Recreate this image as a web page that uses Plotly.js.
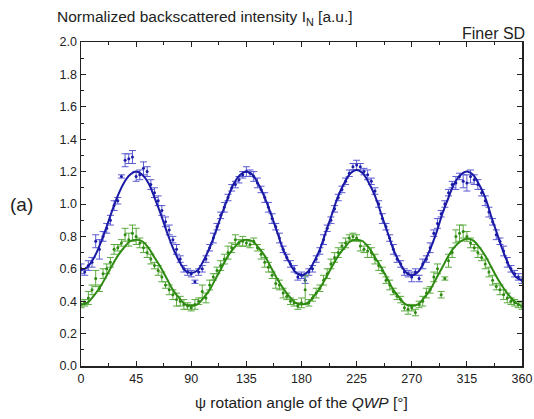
<!DOCTYPE html>
<html>
<head>
<meta charset="utf-8">
<script src="https://cdn.plot.ly/plotly-3.0.1.min.js"></script>
<style>html,body{margin:0;padding:0;background:#fff;}#chart{width:534px;height:419px;}</style>
</head>
<body>
<div id="chart"></div>
<script>
// Measurement angles (deg)
const angles = [0,3,6,9,12,15,18,21,24,27,30,33,36,39,42,45,48,51,54,57,60,63,66,69,72,75,78,81,84,87,90,93,96,99,102,105,108,111,114,117,120,123,126,129,132,135,138,141,144,147,150,153,156,159,162,165,168,171,174,177,180,183,186,189,192,195,198,201,204,207,210,213,216,219,222,225,228,231,234,237,240,243,246,249,252,255,258,261,264,267,270,273,276,279,282,285,288,291,294,297,300,303,306,309,312,315,318,321,324,327,330,333,336,339,342,345,348,351,354,357,360];

const blueVals = [0.60,0.58,0.62,0.64,0.77,0.72,0.80,0.85,0.90,0.99,1.02,1.17,1.27,1.28,1.29,1.17,1.18,1.22,1.20,1.12,1.07,1.02,0.96,0.89,0.84,0.78,0.72,0.66,0.60,0.58,0.57,0.52,0.58,0.60,0.66,0.73,0.79,0.86,0.93,0.98,1.04,1.10,1.12,1.15,1.18,1.20,1.19,1.17,1.13,1.09,1.04,0.98,0.91,0.86,0.79,0.72,0.67,0.63,0.60,0.55,0.56,0.53,0.58,0.60,0.66,0.71,0.78,0.85,0.90,0.97,1.04,1.09,1.14,1.19,1.23,1.24,1.23,1.20,1.18,1.14,1.08,1.00,0.91,0.86,0.79,0.72,0.66,0.63,0.58,0.57,0.55,0.58,0.54,0.63,0.66,0.73,0.82,0.88,0.94,1.00,1.07,1.12,1.13,1.17,1.14,1.13,1.17,1.15,1.12,1.07,1.02,0.95,0.89,0.81,0.77,0.71,0.64,0.60,0.57,0.55,0.53];
const blueErr = [0.03,0.02,0.03,0.03,0.04,0.06,0.03,0.03,0.03,0.03,0.02,0.01,0.04,0.03,0.04,0.03,0.03,0.04,0.03,0.03,0.03,0.03,0.03,0.03,0.03,0.02,0.03,0.02,0.02,0.02,0.02,0.01,0.02,0.02,0.02,0.02,0.03,0.02,0.02,0.03,0.02,0.02,0.02,0.02,0.02,0.03,0.02,0.03,0.03,0.02,0.03,0.03,0.03,0.02,0.03,0.02,0.02,0.02,0.02,0.02,0.02,0.02,0.02,0.02,0.02,0.02,0.03,0.02,0.02,0.02,0.02,0.02,0.02,0.02,0.02,0.03,0.02,0.02,0.03,0.02,0.02,0.02,0.03,0.02,0.02,0.03,0.02,0.02,0.02,0.02,0.03,0.02,0.02,0.03,0.02,0.03,0.02,0.03,0.02,0.02,0.02,0.02,0.04,0.02,0.04,0.05,0.04,0.03,0.03,0.02,0.03,0.03,0.02,0.03,0.02,0.03,0.03,0.02,0.02,0.02,0.02];

const greenVals = [0.38,0.39,0.42,0.47,0.54,0.48,0.57,0.60,0.64,0.72,0.73,0.76,0.81,0.78,0.82,0.80,0.76,0.73,0.70,0.66,0.62,0.59,0.55,0.50,0.47,0.44,0.41,0.40,0.38,0.37,0.36,0.38,0.40,0.46,0.42,0.50,0.55,0.59,0.62,0.66,0.70,0.73,0.78,0.76,0.77,0.76,0.75,0.77,0.73,0.69,0.64,0.61,0.56,0.51,0.50,0.45,0.43,0.40,0.39,0.37,0.39,0.47,0.39,0.42,0.45,0.48,0.53,0.57,0.63,0.67,0.70,0.74,0.76,0.79,0.80,0.79,0.74,0.72,0.71,0.70,0.66,0.62,0.59,0.53,0.50,0.46,0.43,0.41,0.36,0.35,0.36,0.33,0.38,0.40,0.45,0.47,0.55,0.60,0.44,0.54,0.65,0.70,0.80,0.82,0.83,0.80,0.76,0.73,0.70,0.67,0.63,0.58,0.53,0.49,0.47,0.44,0.42,0.40,0.39,0.38,0.37];
const greenErr = [0.02,0.02,0.04,0.03,0.05,0.02,0.03,0.03,0.03,0.03,0.02,0.02,0.04,0.04,0.05,0.05,0.03,0.03,0.03,0.03,0.02,0.03,0.03,0.02,0.03,0.03,0.04,0.03,0.03,0.02,0.02,0.03,0.02,0.04,0.03,0.03,0.02,0.02,0.03,0.03,0.04,0.03,0.03,0.02,0.03,0.02,0.02,0.02,0.02,0.03,0.03,0.03,0.02,0.03,0.03,0.03,0.02,0.02,0.02,0.02,0.03,0.09,0.02,0.02,0.03,0.02,0.03,0.03,0.03,0.03,0.03,0.02,0.03,0.02,0.02,0.02,0.03,0.02,0.04,0.03,0.03,0.03,0.02,0.02,0.03,0.02,0.02,0.02,0.02,0.03,0.02,0.02,0.02,0.03,0.03,0.02,0.03,0.03,0.02,0.01,0.04,0.03,0.04,0.05,0.04,0.03,0.03,0.02,0.03,0.02,0.03,0.03,0.03,0.02,0.03,0.03,0.03,0.02,0.02,0.02,0.02];

// Fit curves (deg, value)
const fitAngles = [0,5,10,15,20,25,30,35,40,45,50,55,60,65,70,75,80,85,90,95,100,105,110,115,120,125,130,135,140,145,150,155,160,165,170,175,180,185,190,195,200,205,210,215,220,225,230,235,240,245,250,255,260,265,270,275,280,285,290,295,300,305,310,315,320,325,330,335,340,345,350,355,360];
const blueFit = [0.59,0.61,0.66,0.74,0.84,0.95,1.05,1.13,1.18,1.20,1.18,1.13,1.04,0.94,0.83,0.73,0.65,0.59,0.575,0.59,0.65,0.73,0.83,0.94,1.04,1.13,1.18,1.20,1.18,1.12,1.04,0.94,0.83,0.72,0.64,0.58,0.56,0.58,0.64,0.72,0.83,0.94,1.05,1.13,1.19,1.21,1.19,1.13,1.05,0.94,0.83,0.72,0.64,0.58,0.56,0.58,0.64,0.72,0.82,0.94,1.04,1.13,1.18,1.20,1.18,1.12,1.04,0.92,0.81,0.70,0.61,0.55,0.53];
const greenFit = [0.38,0.39,0.43,0.48,0.545,0.615,0.68,0.73,0.77,0.78,0.77,0.73,0.67,0.61,0.54,0.47,0.42,0.38,0.37,0.38,0.42,0.47,0.54,0.61,0.68,0.73,0.77,0.78,0.77,0.73,0.68,0.61,0.54,0.48,0.43,0.39,0.38,0.39,0.43,0.48,0.545,0.615,0.68,0.73,0.77,0.78,0.77,0.73,0.67,0.61,0.54,0.47,0.42,0.38,0.37,0.38,0.42,0.47,0.54,0.61,0.68,0.735,0.77,0.785,0.775,0.735,0.68,0.61,0.54,0.48,0.43,0.39,0.37];

const xTicks = [0,45,90,135,180,225,270,315,360];

const BLUE = '#1a1aa6', BLUE_ERR = '#5a5ad2';
const GREEN = '#2e8a10', GREEN_ERR = '#5aab3e';

const traces = [
  {x: angles, y: blueVals, type:'scatter', mode:'markers',
   marker:{color:BLUE, size:3},
   error_y:{type:'data', array: blueErr, visible:true, color:BLUE_ERR, thickness:1, width:3.5},
   hoverinfo:'skip', showlegend:false},
  {x: angles, y: greenVals, type:'scatter', mode:'markers',
   marker:{color:GREEN, size:3},
   error_y:{type:'data', array: greenErr, visible:true, color:GREEN_ERR, thickness:1, width:3.5},
   hoverinfo:'skip', showlegend:false},
  {x: fitAngles, y: blueFit, type:'scatter', mode:'lines',
   line:{color:BLUE, width:2, shape:'spline', smoothing:1}, showlegend:false, hoverinfo:'skip'},
  {x: fitAngles, y: greenFit, type:'scatter', mode:'lines',
   line:{color:GREEN, width:2, shape:'spline', smoothing:1}, showlegend:false, hoverinfo:'skip'}
];

const FAM = 'Liberation Sans, Arial, sans-serif';
const tickFont = {family:FAM, size:12.5, color:'#222'};

const layout = {
  width:534, height:419,
  margin:{l:81, r:12, t:42, b:53, pad:0},
  paper_bgcolor:'#fff', plot_bgcolor:'#fff',
  font:{family:FAM, color:'#222'},
  title:{text:'Normalized backscattered intensity I<sub>N</sub> [a.u.]',
         font:{family:FAM, size:15.5, color:'#222'},
         x:57/534, xanchor:'left', xref:'container', y:1-17/419, yanchor:'middle', yref:'container'},
  xaxis:{range:[0,360], tickvals:xTicks, ticktext:xTicks.map(String), ticks:'inside', ticklen:5, tickwidth:1,
         tickcolor:'#222', showline:true, linecolor:'#222', linewidth:1.5, mirror:'ticks',
         showgrid:false, zeroline:false, tickfont:tickFont,
         minor:{dtick:22.5, tick0:0, ticks:'inside', ticklen:3, tickcolor:'#222', showgrid:false}},
  yaxis:{range:[0,2], dtick:0.2, tick0:0, tickformat:'.1f', ticks:'inside', ticklen:5, tickwidth:1,
         tickcolor:'#222', showline:true, linecolor:'#222', linewidth:1.5, mirror:'ticks',
         showgrid:false, zeroline:false, tickfont:tickFont,
         minor:{dtick:0.1, tick0:0, ticks:'inside', ticklen:3, tickcolor:'#222', showgrid:false}},
  annotations:[
    {text:'Finer SD', xref:'paper', yref:'paper', x:1.012, y:1.026, xanchor:'right', yanchor:'middle',
     showarrow:false, font:{family:FAM, size:16, color:'#222'}},
    {text:'(a)', xref:'paper', yref:'paper', x:-0.134, y:0.497, xanchor:'center', yanchor:'middle',
     showarrow:false, font:{family:FAM, size:19, color:'#222'}},
    {text:'\u03c8 rotation angle of the <i>QWP</i> [\u00b0]', xref:'paper', yref:'paper', x:0.5, y:-0.112,
     xanchor:'center', yanchor:'middle', showarrow:false,
     font:{family:FAM, size:15.5, color:'#222'}}
  ]
};

Plotly.newPlot('chart', traces, layout, {staticPlot:true, displayModeBar:false});
</script>
</body>
</html>
